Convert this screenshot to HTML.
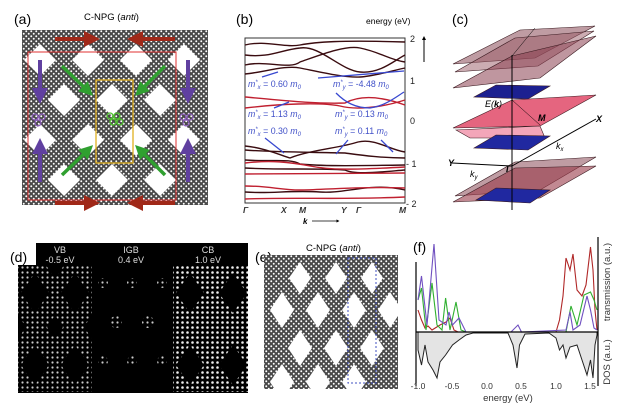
<!DOCTYPE html>
<html><head><meta charset="utf-8"><style>
html,body{margin:0;padding:0;background:#fff}
svg{display:block;font-family:"Liberation Sans",sans-serif}
</style></head><body>
<svg width="638" height="414" viewBox="0 0 638 414" xmlns="http://www.w3.org/2000/svg">
<defs>
<pattern id="hex" width="5" height="5" patternUnits="userSpaceOnUse">
<rect width="5" height="5" fill="#4a4a4a"/>
<circle cx="1.25" cy="1.25" r="0.95" fill="#fff"/>
<circle cx="3.75" cy="3.75" r="0.95" fill="#fff"/>
</pattern>
<pattern id="dots" width="5" height="5" patternUnits="userSpaceOnUse">
<rect width="5" height="5" fill="#000"/>
<circle cx="2.5" cy="2.5" r="1.1" fill="#ccc"/>
</pattern>
<pattern id="dots2" width="5" height="5" patternUnits="userSpaceOnUse">
<rect width="5" height="5" fill="#000"/>
<circle cx="2.5" cy="2.5" r="1.3" fill="#eee"/>
</pattern>
<clipPath id="cvb"><rect x="18" y="266" width="74" height="126"/></clipPath>
<clipPath id="ccb"><rect x="173" y="266" width="75" height="126"/></clipPath>
<clipPath id="ca"><rect x="22" y="30" width="186" height="175"/></clipPath>
<clipPath id="ce"><rect x="264" y="255" width="134" height="134"/></clipPath>
<marker id="ar" markerWidth="4" markerHeight="4" refX="2" refY="2" orient="auto"><path d="M0,0 L4,2 L0,4z" fill="context-stroke"/></marker>
</defs>

<!-- (a) -->
<text x="14" y="24" font-size="14">(a)</text>
<text x="84" y="20" font-size="9.5">C-NPG (<tspan font-style="italic">anti</tspan>)</text>
<rect x="22" y="30" width="186" height="175" fill="url(#hex)"/>
<g fill="#fff" clip-path="url(#ca)">
<path d="M40,44 l16,16 -16,16 -16,-16z"/><path d="M88,44 l16,16 -16,16 -16,-16z"/><path d="M136,44 l16,16 -16,16 -16,-16z"/><path d="M184,44 l16,16 -16,16 -16,-16z"/>
<path d="M64,84 l16,16 -16,16 -16,-16z"/><path d="M112,84 l16,16 -16,16 -16,-16z"/><path d="M160,84 l16,16 -16,16 -16,-16z"/>
<path d="M40,124 l16,16 -16,16 -16,-16z"/><path d="M88,124 l16,16 -16,16 -16,-16z"/><path d="M136,124 l16,16 -16,16 -16,-16z"/><path d="M184,124 l16,16 -16,16 -16,-16z"/>
<path d="M64,164 l16,16 -16,16 -16,-16z"/><path d="M112,164 l16,16 -16,16 -16,-16z"/><path d="M160,164 l16,16 -16,16 -16,-16z"/>
</g>
<rect x="28" y="52" width="148" height="148" fill="none" stroke="#e03030" stroke-width="1"/>
<rect x="96" y="80" width="37" height="83" fill="none" stroke="#e0b020" stroke-width="1.3"/>
<g stroke="#a02818" stroke-width="4" marker-end="url(#ar)"><line x1="55" y1="39" x2="92" y2="39"/><line x1="175" y1="39" x2="135" y2="39"/><line x1="55" y1="203" x2="92" y2="203"/><line x1="175" y1="203" x2="135" y2="203"/></g>
<g stroke="#6040a0" stroke-width="4" marker-end="url(#ar)"><line x1="40" y1="60" x2="40" y2="96"/><line x1="40" y1="182" x2="40" y2="146"/><line x1="188" y1="60" x2="188" y2="96"/><line x1="188" y1="182" x2="188" y2="146"/></g>
<g stroke="#30a030" stroke-width="3.5" marker-end="url(#ar)"><line x1="62" y1="66" x2="88" y2="91"/><line x1="165" y1="66" x2="140" y2="91"/><line x1="62" y1="175" x2="88" y2="150"/><line x1="165" y1="175" x2="140" y2="150"/></g>
<g fill="none" stroke="#50c030" stroke-width="1.3"><circle cx="110" cy="116" r="3"/><circle cx="117" cy="116" r="3"/><circle cx="113" cy="122" r="3"/><circle cx="120" cy="122" r="3"/></g>
<g fill="none" stroke="#9060c0" stroke-width="1.2"><circle cx="35" cy="117" r="3"/><circle cx="42" cy="117" r="3"/><circle cx="38" cy="123" r="3"/><circle cx="183" cy="117" r="3"/><circle cx="190" cy="117" r="3"/><circle cx="186" cy="123" r="3"/></g>

<!-- (b) -->
<text x="236" y="24" font-size="14">(b)</text>
<text x="366" y="24" font-size="8.5">energy (eV)</text>
<line x1="424" y1="62" x2="424" y2="38" stroke="#000" stroke-width="1" marker-end="url(#ar)"/>
<rect x="245" y="38" width="160" height="165" fill="#fff" stroke="#333" stroke-width="1"/>
<g font-size="9" fill="#222"><text x="410" y="42">2</text><text x="410" y="84">1</text><text x="410" y="124">0</text><text x="406" y="167">- 1</text><text x="406" y="207">- 2</text></g>
<g font-size="8.5" font-style="italic" font-weight="bold" fill="#333"><text x="243" y="213">Γ</text><text x="281" y="213">X</text><text x="299" y="213">M</text><text x="341" y="213">Y</text><text x="356" y="213">Γ</text><text x="399" y="213">M</text></g>
<text x="303" y="224" font-size="8" font-weight="bold" font-style="italic">k</text>
<line x1="312" y1="221" x2="338" y2="221" stroke="#000" stroke-width="0.8" marker-end="url(#ar)"/>
<g fill="none" stroke="#3a0c10" stroke-width="1.4">
<path d="M245,45 C265,40 285,48 300,45 S340,40 405,42"/>
<path d="M245,55 C270,58 280,50 300,48 C320,45 340,70 360,72 C380,74 395,60 405,55"/>
<path d="M245,65 C265,60 290,70 300,62 C320,55 345,45 360,48 C380,52 390,60 405,62"/>
<path d="M245,74 C265,72 285,65 300,68 C320,72 345,78 360,77 S395,70 405,68"/>
<path d="M245,146 C265,148 280,155 290,158 C310,150 340,148 358,142 C375,138 390,150 405,152"/>
<path d="M245,150 C270,152 300,152 345,153 C360,155 380,158 405,158"/>
<path d="M245,160 C270,162 290,158 300,164 C320,166 345,166 405,165"/>
<path d="M245,168 C280,170 320,168 345,170 C355,175 380,172 405,170"/>
<path d="M245,192 C270,194 290,190 320,192 C345,194 370,182 405,190"/>
</g>
<g fill="none" stroke="#c02030" stroke-width="1.4">
<path d="M245,97 C280,100 310,104 345,103 C360,95 380,96 405,105"/>
<path d="M245,108 C280,104 320,102 340,106 C355,110 380,108 405,100"/>
<path d="M245,163 C270,160 290,162 310,166 S350,170 405,167"/>
<path d="M245,174 L405,173"/>
<path d="M245,186 C270,186 280,190 300,190 S360,186 405,188"/>
<path d="M245,199 C300,197 340,200 405,197"/>
</g>
<g fill="none" stroke="#3848d0" stroke-width="1.3">
<path d="M262,77 L278,72"/><path d="M318,78 L404,71"/>
<path d="M336,93 C345,102 355,108 370,108 C385,106 396,97 404,92"/>
<path d="M274,108 L289,102"/><path d="M265,138 L284,153"/><path d="M336,154 L348,140"/><path d="M381,140 L393,152"/>
</g>
<g font-size="8.8" fill="#4050c8" font-style="italic">
<text x="248" y="87">m<tspan font-size="6" dy="-3">*</tspan><tspan font-size="6" dy="5">x</tspan><tspan dy="-2" font-style="normal"> = 0.60 </tspan>m<tspan font-size="6" dy="2">0</tspan></text>
<text x="333" y="87">m<tspan font-size="6" dy="-3">*</tspan><tspan font-size="6" dy="5">y</tspan><tspan dy="-2" font-style="normal"> = -4.48 </tspan>m<tspan font-size="6" dy="2">0</tspan></text>
<text x="248" y="117">m<tspan font-size="6" dy="-3">*</tspan><tspan font-size="6" dy="5">x</tspan><tspan dy="-2" font-style="normal"> = 1.13 </tspan>m<tspan font-size="6" dy="2">0</tspan></text>
<text x="335" y="117">m<tspan font-size="6" dy="-3">*</tspan><tspan font-size="6" dy="5">y</tspan><tspan dy="-2" font-style="normal"> = 0.13 </tspan>m<tspan font-size="6" dy="2">0</tspan></text>
<text x="248" y="134">m<tspan font-size="6" dy="-3">*</tspan><tspan font-size="6" dy="5">x</tspan><tspan dy="-2" font-style="normal"> = 0.30 </tspan>m<tspan font-size="6" dy="2">0</tspan></text>
<text x="335" y="134">m<tspan font-size="6" dy="-3">*</tspan><tspan font-size="6" dy="5">y</tspan><tspan dy="-2" font-style="normal"> = 0.11 </tspan>m<tspan font-size="6" dy="2">0</tspan></text>
</g>

<!-- (c) -->
<text x="452" y="24" font-size="14">(c)</text>
<g stroke="#3a1a20" stroke-width="0.6">
<path d="M453,64 L520,30 L595,26 L535,58z" fill="#8a4a58" fill-opacity="0.55"/>
<path d="M455,72 L515,38 L594,31 L538,66z" fill="#9a5a66" fill-opacity="0.5"/>
<path d="M453,88 L512,56 L596,36 L540,78z" fill="#8a4050" fill-opacity="0.55"/>
<path d="M474,97 L496,85 L550,86 L528,99z" fill="#1c2090"/>
<path d="M453,128 L512,100 L596,95 L540,126z" fill="#e04a68" fill-opacity="0.85"/>
<path d="M456,130 L540,126 L545,138 L470,138z" fill="#f090a8" fill-opacity="0.8"/>
<path d="M474,148 L496,135 L550,136 L528,150z" fill="#2028a0"/>
<path d="M455,196 L515,162 L596,157 L540,190z" fill="#8a4a58" fill-opacity="0.55"/>
<path d="M453,202 L515,168 L596,166 L540,198z" fill="#9a3a4a" fill-opacity="0.6"/>
<path d="M476,200 L496,188 L550,190 L530,203z" fill="#2028a0"/>
</g>
<g stroke="#000" stroke-width="1" fill="none"><line x1="512" y1="55" x2="512" y2="210"/><line x1="452" y1="163" x2="512" y2="166"/><line x1="512" y1="166" x2="596" y2="119"/><line x1="512" y1="100" x2="540" y2="125" stroke-width="0.5"/><line x1="512" y1="56" x2="535" y2="28" stroke-width="0.5"/></g>
<g font-size="9" font-style="italic"><text x="485" y="107">E(<tspan font-weight="bold">k</tspan>)</text><text x="538" y="121" font-weight="bold">M</text><text x="596" y="122" font-weight="bold">X</text><text x="448" y="166" font-weight="bold">Y</text><text x="506" y="172" font-weight="bold">Γ</text><text x="556" y="149">k<tspan font-size="6" dy="2">x</tspan></text><text x="470" y="177">k<tspan font-size="6" dy="2">y</tspan></text></g>

<!-- (d) -->
<rect x="36" y="243" width="212" height="150" fill="#000"/>
<rect x="18" y="265" width="20" height="128" fill="#000"/>
<text x="10" y="262" font-size="14">(d)</text>
<rect x="18" y="266" width="74" height="126" fill="url(#dots)"/>
<rect x="173" y="266" width="75" height="126" fill="url(#dots2)"/>
<g fill="#000" clip-path="url(#cvb)">
<path d="M35,273 l14,20 -14,20 -14,-20z"/><path d="M75,273 l14,20 -14,20 -14,-20z"/><path d="M35,345 l14,20 -14,20 -14,-20z"/><path d="M75,345 l14,20 -14,20 -14,-20z"/>
<path d="M55,250 l10,14 -10,14 -10,-14z"/><path d="M55,315 l8,12 -8,12 -8,-12z"/><path d="M18,315 l8,12 -8,12 -8,-12z"/><path d="M92,315 l8,12 -8,12 -8,-12z"/>
</g>
<g fill="#000" clip-path="url(#ccb)">
<path d="M190,273 l14,20 -14,20 -14,-20z"/><path d="M233,273 l14,20 -14,20 -14,-20z"/><path d="M190,345 l14,20 -14,20 -14,-20z"/><path d="M233,345 l14,20 -14,20 -14,-20z"/>
</g>
<g><circle cx="103" cy="283" r="5" fill="url(#dots)"/><circle cx="132" cy="283" r="5" fill="url(#dots)"/><circle cx="162" cy="283" r="5" fill="url(#dots)"/><circle cx="116" cy="322" r="6" fill="url(#dots)"/><circle cx="148" cy="322" r="6" fill="url(#dots)"/><circle cx="103" cy="361" r="5" fill="url(#dots)"/><circle cx="132" cy="361" r="5" fill="url(#dots)"/><circle cx="162" cy="361" r="5" fill="url(#dots)"/></g>
<g font-size="9" fill="#ddd" text-anchor="middle"><text x="60" y="253">VB</text><text x="60" y="263">-0.5 eV</text><text x="131" y="253">IGB</text><text x="131" y="263">0.4 eV</text><text x="208" y="253">CB</text><text x="208" y="263">1.0 eV</text></g>

<!-- (e) -->
<text x="255" y="262" font-size="14">(e)</text>
<text x="306" y="251" font-size="9.5">C-NPG (<tspan font-style="italic">anti</tspan>)</text>
<rect x="264" y="255" width="134" height="134" fill="url(#hex)"/>
<g fill="#fff" clip-path="url(#ce)">
<path d="M282,292 l12,18 -12,18 -12,-18z"/><path d="M318,292 l12,18 -12,18 -12,-18z"/><path d="M354,292 l12,18 -12,18 -12,-18z"/><path d="M390,292 l12,18 -12,18 -12,-18z"/>
<path d="M300,262 l11,16 -11,16 -11,-16z"/><path d="M336,262 l11,16 -11,16 -11,-16z"/><path d="M372,262 l11,16 -11,16 -11,-16z"/>
<path d="M300,330 l12,18 -12,18 -12,-18z"/><path d="M336,330 l12,18 -12,18 -12,-18z"/><path d="M372,330 l12,18 -12,18 -12,-18z"/>
<path d="M282,364 l12,18 -12,18 -12,-18z"/><path d="M318,364 l12,18 -12,18 -12,-18z"/><path d="M354,364 l12,18 -12,18 -12,-18z"/>
</g>
<rect x="348" y="258" width="28" height="125" fill="none" stroke="#4050c0" stroke-width="1" stroke-dasharray="2,2"/>

<!-- (f) -->
<text x="413" y="252" font-size="14">(f)</text>
<path d="M418,350 L421.5,365 425,345 428,362 433,370 437,378 440,362 445.6,355 452.5,345 459,340 466,335 473,333 508,333 513,345 517,368 519.5,345 525,334 549,333 556,338 559.5,350 563,345 566,358 570,347 577,345 582,360 587,375 590.5,360 593,378 595,345 597,335 L597,332 L418,332z" fill="#e4e4e4" stroke="#222" stroke-width="1"/>
<g fill="none" stroke-width="1.1">
<path d="M418,310 L421.5,320 425,328 428,326 432,330 440,325 446,322 450,318 454,330 458,332 556,332 559.5,320 563,296 566,258 570,270 573,254 577,290 582,296 586,285 590.5,247 593,270 595,310 597,330" stroke="#b02828"/>
<path d="M418,300 L421.5,288 426,330 432,283 437,325 442,330 445.6,298 450,330 456,302 461,330 466,332 566,332 571,306 577,325 584,295 590.5,292 594,300 597,310" stroke="#30b030"/>
<path d="M418,300 L421.5,276 427,325 434,244 439,320 446,325 449,312 452.5,325 459,318 466,332 511,332 518,325 521.5,332 566,330 570,312 573,330 580,325 587,296 590.5,310 594,328 597,330" stroke="#7050c0"/>
</g>
<g stroke="#000" stroke-width="1.2"><line x1="416" y1="262" x2="416" y2="386"/><line x1="416" y1="332" x2="598" y2="332"/><line x1="598" y1="237" x2="598" y2="386"/></g>
<g font-size="8.5" fill="#333" text-anchor="middle"><text x="418" y="389">-1.0</text><text x="452" y="389">-0.5</text><text x="487" y="389">0.0</text><text x="521" y="389">0.5</text><text x="556" y="389">1.0</text><text x="590" y="389">1.5</text></g>
<text x="508" y="401" font-size="9.5" text-anchor="middle" fill="#333">energy (eV)</text>
<text transform="translate(610,282) rotate(-90)" font-size="9.5" text-anchor="middle" fill="#333">transmission (a.u.)</text>
<text transform="translate(610,362) rotate(-90)" font-size="9.5" text-anchor="middle" fill="#333">DOS (a.u.)</text>
</svg>
</body></html>
